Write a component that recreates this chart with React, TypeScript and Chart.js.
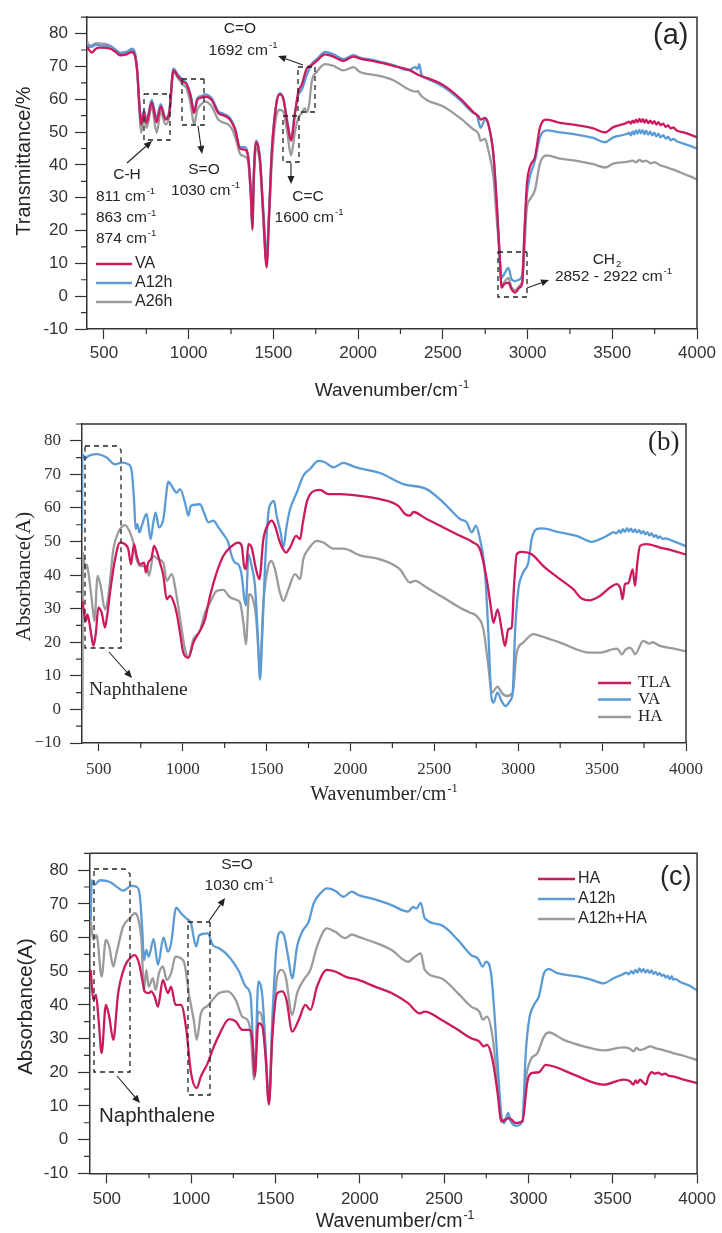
import React, { useEffect, useRef } from 'react';
import { Chart, registerables } from 'chart.js';

Chart.register(...registerables);

type P = [number, number];

const W = 722;
const RED = '#CC1A5E';
const BLUE = '#5B9BD5';
const GRAY = '#9B9B9B';
const AXIS = '#333333';
const TEXT = '#262626';
const SANS = "'Liberation Sans', Arial, Helvetica, sans-serif";
const SERIF = "'Liberation Serif', 'Times New Roman', serif";

// ---------- tick values ----------
const xMajorTicks = [500, 1000, 1500, 2000, 2500, 3000, 3500, 4000];
const xMinorTicks = [750, 1250, 1750, 2250, 2750, 3250, 3750];
const yMajorTicks = [-10, 0, 10, 20, 30, 40, 50, 60, 70, 80];
const yMinorTicks = [-5, 5, 15, 25, 35, 45, 55, 65, 75, 85];

// ---------- panel (a) ----------
const aVA: P[] = [
  [400, 76.0], [410, 75.2], [428, 74.2], [450, 75.3], [477, 75.7], [536, 75.4], [570, 74.4], [595, 73.4],
  [634, 73.7], [664, 74.4], [683, 73.2], [697, 68], [709, 58], [719, 52.3], [736, 55.8], [752, 52.8],
  [782, 59.1], [811, 53.0], [835, 57.8], [864, 53.8], [886, 56.0], [910, 68.8], [939, 66.8], [969, 65.3],
  [988, 64.5], [1012, 60.8], [1032, 55.8], [1051, 59.8], [1075, 60.5], [1096, 60.8], [1136, 59.8], [1175, 55.8],
  [1200, 55.2], [1244, 53.8], [1275, 50.5], [1303, 44.9], [1333, 44.6], [1352, 41.9], [1368, 30], [1376, 20.5],
  [1384, 36], [1397, 46.9], [1410, 45.5], [1421, 41.4], [1440, 25], [1460, 8.8], [1475, 25], [1490, 43.4],
  [1519, 59.1], [1539, 61.5], [1559, 60.0], [1582, 52.8], [1604, 47.4], [1628, 55.8], [1647, 62.3], [1667, 64.3],
  [1696, 69.3], [1726, 70.4], [1756, 71.7], [1805, 73.7], [1854, 73.0], [1913, 71.7], [1972, 73.0], [2011, 72.4],
  [2110, 71.4], [2208, 70.2], [2306, 68.8], [2361, 67.3], [2405, 66.5], [2503, 64.3], [2601, 60.3], [2680, 56.1],
  [2710, 54.8], [2723, 53.8], [2749, 54.3], [2769, 52.3], [2798, 43.4], [2818, 28.5], [2834, 13.5], [2847, 2.6],
  [2861, 3.6], [2887, 4.1], [2906, 2.1], [2926, 1.1], [2952, 2.6], [2969, 4.1], [2981, 18.5], [2995, 33.4],
  [3014, 39.4], [3044, 42.4], [3073, 51.3], [3113, 53.8], [3192, 52.8], [3290, 52.1], [3388, 51.1], [3457, 49.9],
  [3506, 51.5], [3585, 52.8], [3600, 53.2], [3610, 52.6], [3620, 53.5], [3630, 52.8], [3640, 53.8], [3650, 53.0],
  [3660, 54.0], [3670, 53.1], [3680, 53.9], [3690, 52.9], [3700, 53.8], [3712, 52.7], [3724, 53.5], [3736, 52.6],
  [3748, 53.3], [3760, 52.3], [3772, 53.0], [3785, 52.1], [3800, 52.6], [3815, 51.6], [3830, 52.0], [3845, 51.1],
  [3860, 51.4], [3880, 50.5], [3920, 49.9], [3960, 49.2], [4000, 48.4],
];
const aA12h: P[] = [
  [400, 76.6], [410, 76.0], [428, 76.0], [450, 76.6], [477, 76.4], [536, 76.2], [570, 75.0], [595, 74.0],
  [634, 74.3], [664, 75.4], [683, 74.2], [697, 68.5], [709, 59], [719, 53.8], [736, 56.5], [752, 53.8],
  [782, 59.8], [811, 54.3], [835, 58.5], [864, 54.3], [886, 56.5], [910, 69.3], [939, 67.3], [969, 65.8],
  [988, 64.8], [1012, 61.3], [1032, 56.3], [1051, 60.3], [1075, 61.0], [1096, 61.5], [1136, 60.3], [1175, 56.3],
  [1200, 55.7], [1244, 54.3], [1275, 51], [1303, 45.4], [1333, 45.4], [1352, 42.4], [1368, 31], [1376, 21.5],
  [1384, 37], [1397, 47.4], [1410, 46], [1421, 41.9], [1440, 27], [1460, 12.5], [1475, 27], [1490, 44],
  [1519, 59.3], [1539, 61.8], [1559, 60.3], [1582, 53.3], [1604, 47.9], [1628, 56.3], [1647, 61.3], [1667, 62.8],
  [1696, 67.3], [1726, 70.7], [1756, 72.2], [1805, 74.4], [1854, 73.7], [1913, 72.2], [1972, 73.4], [2011, 72.7],
  [2110, 71.7], [2208, 70.4], [2290, 68.9], [2306, 69.0], [2336, 69.8], [2350, 69.2], [2361, 70.7], [2375, 67.3],
  [2405, 66.3], [2503, 63.8], [2601, 59.8], [2680, 55.8], [2700, 55.2], [2723, 51.3], [2749, 53.8], [2769, 52.3],
  [2798, 43.4], [2818, 28.5], [2834, 13.5], [2847, 5.6], [2861, 6.6], [2887, 8.6], [2906, 5.1], [2926, 4.6],
  [2952, 5.1], [2969, 6.6], [2981, 18.5], [2995, 30.4], [3014, 36.4], [3044, 41.4], [3073, 48.4], [3113, 50.5],
  [3192, 49.9], [3290, 49.2], [3388, 48.2], [3457, 46.9], [3506, 48.4], [3585, 49.4], [3600, 49.8], [3610, 49.0],
  [3620, 50.2], [3630, 49.3], [3640, 50.5], [3650, 49.5], [3660, 50.7], [3670, 49.6], [3680, 50.6], [3690, 49.4],
  [3700, 50.4], [3712, 49.2], [3724, 50.1], [3736, 49.0], [3748, 49.8], [3760, 48.7], [3772, 49.5], [3785, 48.4],
  [3800, 49.1], [3815, 48.0], [3830, 48.5], [3845, 47.5], [3860, 47.9], [3880, 47.2], [3920, 46.5], [3960, 45.8],
  [4000, 44.9],
];
const aA26h: P[] = [
  [400, 77.7], [410, 76.5], [428, 76.4], [450, 77.0], [477, 77.0], [536, 76.4], [570, 75.0], [595, 74.2],
  [634, 74.5], [664, 75.0], [683, 73.5], [697, 68], [709, 57], [719, 49.8], [736, 53.8], [752, 51.3],
  [782, 57.8], [811, 49.8], [835, 56.3], [864, 52.3], [886, 55], [910, 68.3], [939, 66.3], [969, 64.3],
  [988, 63.3], [1012, 58.3], [1032, 52.3], [1051, 56.8], [1075, 58.5], [1096, 59.3], [1136, 57.8], [1175, 53.8],
  [1200, 53.0], [1244, 51.8], [1275, 48.5], [1303, 43.4], [1333, 42.5], [1352, 40.6], [1368, 29], [1376, 20],
  [1384, 34], [1397, 44.9], [1410, 44], [1421, 40.4], [1440, 24], [1460, 10], [1475, 24], [1490, 40],
  [1519, 55.3], [1539, 56.8], [1559, 56.1], [1582, 49.8], [1604, 42.9], [1628, 50.3], [1647, 54.3], [1667, 55.8],
  [1685, 57.3], [1696, 56.0], [1710, 58], [1726, 65.3], [1756, 68.3], [1805, 70.7], [1854, 70.2], [1913, 68.8],
  [1972, 69.8], [2011, 68.3], [2110, 67.3], [2208, 65.8], [2306, 62.8], [2340, 62.3], [2355, 62.5], [2361, 61.8],
  [2405, 59.8], [2503, 57.8], [2601, 54.3], [2680, 50.8], [2710, 49.5], [2723, 47.4], [2749, 47.9], [2769, 44.4],
  [2798, 36.4], [2818, 23.5], [2834, 13.5], [2847, 3.1], [2861, 4.1], [2887, 5.6], [2906, 2.6], [2926, 1.8],
  [2952, 3.1], [2969, 4.6], [2981, 13.5], [2995, 26.5], [3014, 29.5], [3044, 32.4], [3073, 40.4], [3113, 42.9],
  [3192, 41.9], [3290, 41.2], [3388, 40.2], [3457, 39.2], [3506, 40.4], [3585, 40.9], [3620, 41.3], [3640, 40.8],
  [3660, 41.5], [3680, 41.0], [3700, 41.3], [3725, 40.5], [3750, 40.8], [3782, 39.9], [3820, 39.3], [3850, 38.7],
  [3880, 38.2], [3920, 37.3], [3960, 36.5], [4000, 35.6],
];

// ---------- panel (b) ----------
const bTLA: P[] = [
  [402, 32.3], [412, 29], [422, 26.3], [432, 28.3], [444, 25.8], [456, 22], [468, 18.9], [483, 22.9],
  [497, 30.3], [517, 28.8], [537, 24.4], [550, 28], [567, 34.8], [597, 44.7], [626, 49.7], [656, 49.2],
  [676, 47.7], [692, 43.2], [710, 49.2], [726, 45.7], [746, 43.2], [770, 43.7], [781, 40.8], [795, 43.7],
  [815, 45.2], [829, 48.7], [845, 47.2], [865, 43.7], [885, 39.8], [905, 32.8], [924, 33.8], [944, 32.3],
  [964, 28.8], [984, 22.9], [1004, 16.9], [1034, 15.4], [1064, 19.9], [1103, 23.4], [1133, 26.8], [1163, 33.8],
  [1203, 40.8], [1242, 45.7], [1282, 48.2], [1332, 49.7], [1352, 48.7], [1366, 42.7], [1377, 41.8], [1392, 49.2],
  [1411, 48.2], [1437, 41.8], [1457, 38.8], [1481, 50.7], [1511, 55.2], [1530, 56.2], [1550, 54.7], [1580, 49.7],
  [1616, 46.7], [1640, 48.2], [1676, 51.7], [1700, 50.7], [1715, 55.2], [1739, 61.6], [1769, 64.6], [1819, 65.4],
  [1868, 64.1], [1938, 64.1], [2057, 63.6], [2176, 62.6], [2285, 60.6], [2325, 58.2], [2355, 57.7], [2375, 58.8],
  [2454, 56.7], [2554, 54.2], [2653, 51.7], [2732, 49.7], [2772, 47.7], [2812, 38.8], [2836, 30.8], [2852, 25.8],
  [2877, 29.8], [2901, 23.9], [2921, 18.9], [2941, 23.9], [2961, 24.4], [2975, 36.8], [2991, 46.2], [3020, 46.9],
  [3080, 46.2], [3150, 42.7], [3249, 38.8], [3328, 35.8], [3378, 33.0], [3428, 32.5], [3487, 33.8], [3547, 36.3],
  [3587, 37.3], [3610, 35.8], [3622, 32.8], [3636, 37.3], [3656, 37.6], [3682, 41.7], [3696, 36.8], [3710, 43.7],
  [3726, 48.7], [3765, 49.2], [3845, 48.2], [3920, 47.3], [4000, 46.1],
];
const bVA: P[] = [
  [400, 52.7], [403, 76], [418, 74.6], [438, 75.5], [487, 76], [547, 75], [597, 73], [636, 73.5],
  [676, 73], [696, 71], [710, 62.6], [720, 53.7], [730, 55.2], [742, 52.7], [756, 54.7], [785, 58.2],
  [809, 50.7], [825, 55.7], [839, 58.6], [859, 54.2], [885, 56.7], [915, 67.8], [934, 66.6], [964, 64.6],
  [984, 65.6], [1014, 61.6], [1034, 57.7], [1048, 60.6], [1103, 61.1], [1127, 58.6], [1153, 55.7], [1183, 56.2],
  [1213, 54.2], [1242, 52.2], [1272, 49.7], [1292, 45.7], [1312, 43.7], [1332, 43.2], [1352, 39.8], [1368, 32.8],
  [1377, 31], [1392, 46.2], [1411, 42.7], [1431, 36.8], [1447, 22.9], [1461, 8.9], [1475, 22.9], [1491, 42.7],
  [1511, 58.6], [1530, 61.6], [1544, 62.1], [1560, 57.7], [1584, 52.7], [1600, 48.2], [1620, 54.7], [1640, 59.6],
  [1680, 64.6], [1719, 69.6], [1759, 71.6], [1809, 74], [1848, 73.6], [1898, 72.1], [1958, 73.4], [2017, 72.4],
  [2057, 71.8], [2176, 70.4], [2315, 67.1], [2454, 65.6], [2554, 61.6], [2653, 56.7], [2693, 55.7], [2723, 52.7],
  [2748, 54.7], [2772, 50.7], [2802, 40.8], [2822, 22.9], [2838, 5], [2852, 2], [2876, 5], [2901, 2.5],
  [2925, 1], [2951, 2.5], [2967, 5], [2981, 22.9], [3001, 35.8], [3030, 40.8], [3060, 43.7], [3080, 50.7],
  [3110, 53.7], [3140, 53.9], [3249, 52.7], [3348, 51.7], [3438, 49.9], [3487, 50.7], [3547, 52.2], [3570, 52.8],
  [3585, 52.4], [3600, 53.3], [3612, 52.6], [3624, 53.7], [3636, 52.9], [3648, 54.0], [3660, 53.0], [3672, 53.8],
  [3684, 52.8], [3696, 53.6], [3708, 52.7], [3720, 53.4], [3732, 52.4], [3745, 53.1], [3758, 52.1], [3770, 52.8],
  [3782, 51.8], [3795, 52.4], [3808, 51.4], [3820, 52.0], [3833, 51.0], [3845, 51.5], [3860, 50.8], [3880, 50.9],
  [3920, 50.2], [3960, 49.4], [4000, 48.6],
];
const bHA: P[] = [
  [403, 0], [406, 46.7], [418, 41.7], [428, 43.2], [438, 40.8], [458, 32.8], [474, 26.3], [493, 39.8],
  [511, 36.8], [537, 29.8], [557, 33.8], [587, 47.7], [616, 52.7], [656, 54.9], [686, 52.7], [706, 49.7],
  [726, 44.7], [746, 42.7], [785, 42.7], [799, 39.8], [825, 45.7], [855, 44.7], [885, 43.7], [905, 38.3],
  [934, 40.3], [964, 33.8], [994, 23.9], [1014, 17.9], [1034, 15.4], [1064, 20.9], [1103, 23.4], [1133, 28.8],
  [1163, 31.8], [1203, 35.3], [1242, 35.6], [1282, 33.4], [1312, 32.8], [1342, 31.8], [1362, 25.8], [1377, 19.4],
  [1396, 34.3], [1411, 33.8], [1437, 27.8], [1461, 12.9], [1481, 31.8], [1511, 42.7], [1530, 44.2], [1550, 41.7],
  [1580, 34.8], [1600, 32.3], [1630, 35.8], [1670, 40.3], [1700, 38.8], [1719, 44.7], [1749, 47.7], [1799, 50.2],
  [1839, 49.7], [1898, 47.9], [1958, 47.9], [2057, 45.9], [2176, 44.7], [2295, 41.7], [2355, 37.8], [2385, 38.3],
  [2454, 36.3], [2554, 33.3], [2653, 30.3], [2713, 28.8], [2752, 27.8], [2792, 23.9], [2822, 12.9], [2842, 5],
  [2877, 6.8], [2901, 5], [2931, 4], [2967, 5], [2991, 16.9], [3030, 19.9], [3090, 22.4], [3130, 21.9],
  [3249, 19.9], [3428, 16.9], [3487, 16.9], [3587, 18.1], [3600, 17.6], [3617, 16.4], [3640, 17.8], [3666, 18.4],
  [3682, 17.6], [3696, 16.4], [3745, 20.4], [3780, 19.6], [3800, 20.0], [3845, 18.9], [3920, 18.2], [4000, 17.3],
];

// ---------- panel (c) ----------
const cHA: P[] = [
  [404, 50.4], [420, 41.5], [435, 43], [451, 35.6], [469, 25.7], [494, 40], [514, 36.5], [538, 29.6],
  [567, 43.5], [606, 51.4], [646, 54.3], [665, 54.8], [691, 52.3], [710, 47.4], [724, 44], [750, 43.5],
  [763, 44], [783, 42.5], [803, 39.5], [832, 47.4], [862, 43.5], [881, 45.4], [907, 40], [940, 40],
  [970, 33.1], [999, 19.8], [1033, 15.3], [1058, 18.8], [1098, 22.7], [1127, 26.7], [1166, 31.1], [1225, 35.8],
  [1264, 35.1], [1303, 32.6], [1343, 32.6], [1363, 29.6], [1377, 18.8], [1398, 34.6], [1422, 33.6], [1441, 24.7],
  [1461, 10.4], [1481, 30.6], [1510, 43.5], [1540, 44], [1565, 41.5], [1599, 32.1], [1638, 35.6], [1677, 40],
  [1707, 38.5], [1746, 45.4], [1805, 50.4], [1854, 49.9], [1913, 48.4], [1992, 47.4], [2090, 45.4], [2188, 43.5],
  [2286, 40.5], [2355, 37.5], [2385, 38], [2483, 35.6], [2581, 32.6], [2660, 30.1], [2709, 29.1], [2734, 27.7],
  [2754, 28.1], [2787, 23.7], [2817, 13.8], [2840, 5.4], [2886, 6.4], [2925, 4.9], [2964, 5.4], [2994, 17.3],
  [3023, 19.8], [3062, 20], [3102, 22.2], [3151, 21.7], [3269, 19.3], [3446, 16.3], [3564, 17.8], [3600, 17.4],
  [3623, 16.3], [3635, 17.6], [3645, 16.8], [3662, 17.8], [3680, 17.0], [3697, 16.3], [3710, 18.5], [3731, 20.0],
  [3750, 19.6], [3770, 19.9], [3790, 19.3], [3810, 19.6], [3830, 19.0], [3858, 18.8], [3920, 17.8], [4000, 16.8],
];
const cA12h: P[] = [
  [404, 65.2], [410, 77], [426, 75.6], [459, 77], [518, 76.5], [557, 75.1], [596, 73.9], [646, 75.3],
  [675, 75.1], [695, 72.6], [710, 62.2], [720, 53.3], [734, 56.3], [748, 54.3], [777, 59.5], [803, 51.9],
  [836, 60], [862, 55.8], [881, 58.3], [911, 68.9], [940, 67.2], [970, 65.7], [999, 64.2], [1029, 57.3],
  [1048, 60.7], [1098, 61.2], [1127, 57.8], [1166, 56.8], [1225, 54.3], [1284, 49.9], [1324, 45.4], [1353, 42.5],
  [1377, 18.8], [1398, 46.9], [1422, 42.5], [1441, 27.7], [1461, 11.4], [1481, 35.6], [1506, 57.3], [1530, 61.7],
  [1550, 60.7], [1575, 54.3], [1599, 47.9], [1628, 57.3], [1658, 61.7], [1697, 64.7], [1726, 70.1], [1766, 73.1],
  [1805, 74.6], [1854, 73.9], [1903, 72.1], [1952, 73.6], [1992, 72.6], [2090, 71.3], [2188, 69.6], [2286, 67.7],
  [2316, 69.1], [2335, 68.6], [2361, 70.3], [2385, 65.7], [2483, 63.7], [2581, 59.3], [2660, 54.8], [2699, 53.8],
  [2729, 51.4], [2748, 52.8], [2778, 49.4], [2801, 35.6], [2821, 19.8], [2840, 6.9], [2856, 4.9], [2880, 7.9],
  [2895, 5.4], [2931, 4.1], [2964, 5.4], [2984, 25.7], [3004, 35.6], [3033, 40], [3062, 42.5], [3092, 49.4],
  [3121, 50.6], [3171, 49.4], [3269, 48.6], [3367, 47.6], [3446, 46.4], [3505, 47.9], [3564, 49.2], [3580, 49.6],
  [3595, 49.1], [3610, 50.0], [3622, 49.3], [3634, 50.4], [3646, 49.6], [3658, 50.8], [3670, 49.8], [3682, 50.6],
  [3694, 49.6], [3706, 50.4], [3718, 49.5], [3730, 50.2], [3742, 49.2], [3754, 49.8], [3766, 48.9], [3778, 49.4],
  [3790, 48.6], [3802, 49.0], [3814, 48.1], [3826, 48.6], [3838, 47.7], [3850, 48.5], [3858, 47.4], [3870, 47.7],
  [3900, 46.8], [3950, 45.8], [4000, 44.3],
];
const cA12hHA: P[] = [
  [404, 65.2], [420, 59.3], [439, 60.7], [469, 48.4], [494, 59.3], [514, 57.3], [538, 51.4], [557, 55.3],
  [596, 63.2], [636, 65.7], [665, 67.2], [685, 65.7], [705, 59.3], [720, 44.4], [734, 50.4], [748, 45.4],
  [773, 47.9], [789, 44.4], [809, 49.4], [832, 51.4], [856, 47.4], [881, 49.4], [907, 54.3], [940, 53.8],
  [960, 52.3], [989, 42.5], [1015, 35.6], [1033, 29.6], [1058, 37.5], [1098, 39.7], [1127, 41.5], [1166, 43.5],
  [1215, 44], [1264, 41.5], [1303, 36.5], [1333, 35.6], [1353, 31.6], [1373, 17.8], [1398, 38], [1422, 35.6],
  [1441, 25.7], [1461, 10.9], [1481, 30.6], [1510, 48.4], [1536, 50.4], [1560, 48.4], [1599, 37], [1628, 43.5],
  [1667, 47.4], [1707, 50.4], [1746, 57.3], [1805, 62.7], [1854, 61.7], [1913, 59.8], [1952, 60.9], [1992, 60.2],
  [2090, 58.5], [2188, 56.3], [2286, 52.8], [2326, 54.3], [2361, 55.3], [2385, 50.4], [2483, 47.9], [2581, 43.5],
  [2660, 39.5], [2709, 38], [2729, 35.6], [2754, 36.5], [2787, 30.6], [2817, 16.8], [2840, 5.4], [2876, 6.4],
  [2915, 4.9], [2964, 5.4], [2984, 17.8], [3013, 23.7], [3053, 25.7], [3092, 30.6], [3121, 31.8], [3210, 29.6],
  [3328, 27.7], [3446, 26.5], [3564, 27.4], [3600, 27.0], [3623, 26.2], [3640, 27.2], [3660, 26.6], [3690, 27.0],
  [3721, 27.7], [3760, 27.0], [3800, 26.6], [3858, 25.7], [3920, 24.9], [4000, 23.6],
];

// ---------- drawing helpers ----------
type Ctx = CanvasRenderingContext2D;

function text(ctx: Ctx, s: string, x: number, y: number, size: number, family: string,
  align: CanvasTextAlign = 'left', baseline: CanvasTextBaseline = 'alphabetic') {
  ctx.font = `${size}px ${family}`;
  ctx.fillStyle = TEXT;
  ctx.textAlign = align;
  ctx.textBaseline = baseline;
  ctx.fillText(s, x, y);
}

function supText(ctx: Ctx, base: string, sup: string, x: number, y: number, size: number, family: string,
  align: 'left' | 'center' = 'left', mode: 'sup' | 'sub' = 'sup') {
  ctx.font = `${size}px ${family}`;
  const wb = ctx.measureText(base).width;
  const ss = size * 0.62;
  ctx.font = `${ss}px ${family}`;
  const ws = ctx.measureText(sup).width;
  const total = wb + ws + 1;
  const x0 = align === 'center' ? x - total / 2 : x;
  text(ctx, base, x0, y, size, family);
  const dy = mode === 'sup' ? -size * 0.42 : size * 0.22;
  text(ctx, sup, x0 + wb + 1, y + dy, ss, family);
}

function rotText(ctx: Ctx, s: string, cx: number, cy: number, size: number, family: string) {
  ctx.save();
  ctx.translate(cx, cy);
  ctx.rotate(-Math.PI / 2);
  text(ctx, s, 0, 0, size, family, 'center', 'middle');
  ctx.restore();
}

function dashedBox(ctx: Ctx, x1: number, y1: number, x2: number, y2: number, cut = 0) {
  ctx.save();
  ctx.strokeStyle = '#222';
  ctx.lineWidth = 1.3;
  ctx.setLineDash([5, 4]);
  ctx.beginPath();
  ctx.moveTo(x1, y1);
  ctx.lineTo(x2 - cut, y1);
  ctx.lineTo(x2, y1 + cut);
  ctx.lineTo(x2, y2);
  ctx.lineTo(x1, y2);
  ctx.closePath();
  ctx.stroke();
  ctx.restore();
}

function arrow(ctx: Ctx, x1: number, y1: number, x2: number, y2: number) {
  const ang = Math.atan2(y2 - y1, x2 - x1);
  const hl = 8, hw = 3.5;
  const bx = x2 - hl * Math.cos(ang), by = y2 - hl * Math.sin(ang);
  ctx.save();
  ctx.strokeStyle = '#222';
  ctx.fillStyle = '#222';
  ctx.lineWidth = 1.1;
  ctx.beginPath();
  ctx.moveTo(x1, y1);
  ctx.lineTo(bx, by);
  ctx.stroke();
  ctx.beginPath();
  ctx.moveTo(x2, y2);
  ctx.lineTo(bx + hw * Math.sin(ang), by - hw * Math.cos(ang));
  ctx.lineTo(bx - hw * Math.sin(ang), by + hw * Math.cos(ang));
  ctx.closePath();
  ctx.fill();
  ctx.restore();
}

function legendItem(ctx: Ctx, x1: number, x2: number, y: number, color: string, label: string,
  tx: number, size: number, family: string) {
  ctx.save();
  ctx.strokeStyle = color;
  ctx.lineWidth = 2.6;
  ctx.beginPath();
  ctx.moveTo(x1, y);
  ctx.lineTo(x2, y);
  ctx.stroke();
  ctx.restore();
  text(ctx, label, tx, y, size, family, 'left', 'middle');
}

// ---------- panel configs ----------
interface Series { label: string; data: P[]; color: string }
interface Panel {
  top: number; height: number;
  left: number; right: number; plotTop: number; plotBottom: number;
  family: string; tickSize: number;
  xTickLen: number; yTickLen: number; xMinorLen: number; yMinorLen: number;
  xPad: number; yPad: number; unicodeMinus: boolean;
  series: Series[];
  decorate: (ctx: Ctx) => void;
}

const panelA: Panel = {
  top: 0, height: 400, left: 87, right: 697, plotTop: 10, plotBottom: 329,
  family: SANS, tickSize: 17, xTickLen: 10, yTickLen: 12, xMinorLen: 5, yMinorLen: 6,
  xPad: 4, yPad: 7, unicodeMinus: false,
  series: [
    { label: 'VA', data: aVA, color: RED },
    { label: 'A12h', data: aA12h, color: BLUE },
    { label: 'A26h', data: aA26h, color: GRAY },
  ],
  decorate: (ctx) => {
    const f = SANS, s = 15.5;
    rotText(ctx, 'Transmittance/%', 24, 161, 20, f);
    supText(ctx, 'Wavenumber/cm', '-1', 392, 396, 19, f, 'center');
    text(ctx, '(a)', 653, 44, 29, f);
    legendItem(ctx, 96, 132, 264, RED, 'VA', 135, 16, f);
    legendItem(ctx, 96, 132, 283, BLUE, 'A12h', 135, 16, f);
    legendItem(ctx, 96, 132, 302, GRAY, 'A26h', 135, 16, f);
    // C-H
    dashedBox(ctx, 144, 94, 170, 140);
    arrow(ctx, 127, 163, 152, 141);
    text(ctx, 'C-H', 127, 178.6, s, f, 'center');
    supText(ctx, '811 cm', '-1', 96, 200.6, s, f);
    supText(ctx, '863 cm', '-1', 96, 222.3, s, f);
    supText(ctx, '874 cm', '-1', 96, 243, s, f);
    // S=O
    dashedBox(ctx, 182, 79, 204, 125);
    arrow(ctx, 198, 126, 202, 154);
    text(ctx, 'S=O', 204, 173.6, s, f, 'center');
    supText(ctx, '1030 cm', '-1', 205.5, 194.6, s, f, 'center');
    // C=O
    dashedBox(ctx, 298, 67, 315, 112);
    arrow(ctx, 303, 65, 278, 56);
    text(ctx, 'C=O', 240, 32.5, s, f, 'center');
    supText(ctx, '1692 cm', '-1', 243, 54.6, s, f, 'center');
    // C=C
    dashedBox(ctx, 283, 116, 299, 162);
    arrow(ctx, 291, 163, 291, 184);
    text(ctx, 'C=C', 308, 200.6, s, f, 'center');
    supText(ctx, '1600 cm', '-1', 309, 221.6, s, f, 'center');
    // CH2
    dashedBox(ctx, 498, 252, 527, 297);
    arrow(ctx, 527, 288, 549, 280);
    supText(ctx, 'CH', '2', 607, 263.6, s, f, 'center', 'sub');
    supText(ctx, '2852 - 2922 cm', '-1', 613.5, 280.6, s, f, 'center');
  },
};

const panelB: Panel = {
  top: 400, height: 415, left: 82, right: 686, plotTop: 24, plotBottom: 343,
  family: SERIF, tickSize: 17, xTickLen: 8, yTickLen: 12, xMinorLen: 5, yMinorLen: 6,
  xPad: 8, yPad: 9, unicodeMinus: true,
  series: [
    { label: 'TLA', data: bTLA, color: RED },
    { label: 'VA', data: bVA, color: BLUE },
    { label: 'HA', data: bHA, color: GRAY },
  ],
  decorate: (ctx) => {
    const f = SERIF;
    rotText(ctx, 'Absorbance(A)', 24, 576.5, 21, f);
    supText(ctx, 'Wavenumber/cm', '-1', 384, 800, 20, f, 'center');
    text(ctx, '(b)', 648, 450, 27, f);
    legendItem(ctx, 598, 631, 683, RED, 'TLA', 638, 17, f);
    legendItem(ctx, 598, 631, 699.5, BLUE, 'VA', 638, 17, f);
    legendItem(ctx, 598, 631, 717, GRAY, 'HA', 638, 17, f);
    dashedBox(ctx, 85, 446, 121, 648, 4);
    arrow(ctx, 109, 652, 132, 678);
    text(ctx, 'Naphthalene', 89, 695, 19.5, f);
  },
};

const panelC: Panel = {
  top: 815, height: 418, left: 90, right: 700.7, plotTop: 38.3, plotBottom: 358.3,
  family: SANS, tickSize: 17, xTickLen: 10, yTickLen: 12, xMinorLen: 5, yMinorLen: 6,
  xPad: 6, yPad: 9.7, unicodeMinus: false,
  series: [
    { label: 'HA', data: cHA, color: RED },
    { label: 'A12h', data: cA12h, color: BLUE },
    { label: 'A12h+HA', data: cA12hHA, color: GRAY },
  ],
  decorate: (ctx) => {
    const f = SANS, s = 15.5;
    rotText(ctx, 'Absorbance(A)', 26, 1006.5, 20.5, f);
    supText(ctx, 'Wavenumber/cm', '-1', 395, 1227, 19.5, f, 'center');
    text(ctx, '(c)', 660, 884.5, 27, f);
    legendItem(ctx, 538, 575, 879, RED, 'HA', 578, 16, f);
    legendItem(ctx, 538, 575, 899, BLUE, 'A12h', 578, 16, f);
    legendItem(ctx, 538, 575, 919, GRAY, 'A12h+HA', 578, 16, f);
    dashedBox(ctx, 94, 869, 130, 1072, 5);
    arrow(ctx, 117, 1076, 140, 1103);
    text(ctx, 'Naphthalene', 99, 1122.4, 20.5, f);
    dashedBox(ctx, 188, 922, 210, 1095);
    arrow(ctx, 209, 921, 225, 898);
    text(ctx, 'S=O', 237, 868.6, s, f, 'center');
    supText(ctx, '1030 cm', '-1', 239, 889.6, s, f, 'center');
  },
};

// ---------- chart component ----------
function PanelChart({ p }: { p: Panel }) {
  const ref = useRef<HTMLCanvasElement>(null);
  useEffect(() => {
    const canvas = ref.current;
    if (!canvas) return;
    const deco = {
      id: 'deco',
      afterDraw(chart: any) {
        const ctx: Ctx = chart.ctx;
        const a = chart.chartArea;
        const xs = chart.scales.x;
        const ys = chart.scales.y;
        ctx.save();
        ctx.strokeStyle = AXIS;
        ctx.lineWidth = 1.5;
        ctx.beginPath();
        ctx.moveTo(a.left, a.top);
        ctx.lineTo(a.right, a.top);
        ctx.lineTo(a.right, a.bottom);
        ctx.stroke();
        ctx.lineWidth = 1.2;
        ctx.beginPath();
        yMinorTicks.forEach((v) => {
          const py = ys.getPixelForValue(v);
          ctx.moveTo(a.left - p.yMinorLen, py);
          ctx.lineTo(a.left, py);
        });
        xMinorTicks.forEach((v) => {
          const px = xs.getPixelForValue(v);
          ctx.moveTo(px, a.bottom);
          ctx.lineTo(px, a.bottom + p.xMinorLen);
        });
        ctx.stroke();
        ctx.translate(0, -p.top);
        p.decorate(ctx);
        ctx.restore();
      },
    };
    const tickFont = { family: p.family, size: p.tickSize };
    const chart = new Chart(canvas, {
      type: 'line',
      data: {
        datasets: p.series.map((s) => ({
          label: s.label,
          data: s.data.map(([x, y]) => ({ x, y })),
          borderColor: s.color,
          backgroundColor: s.color,
          borderWidth: 2.3,
          pointRadius: 0,
          fill: false,
          borderJoinStyle: 'round' as const,
          cubicInterpolationMode: 'monotone' as const,
        })),
      },
      options: {
        responsive: false,
        animation: false,
        events: [],
        layout: { autoPadding: false, padding: { left: 0, top: p.plotTop, right: W - p.right, bottom: 0 } },
        plugins: { legend: { display: false }, tooltip: { enabled: false } },
        scales: {
          x: {
            type: 'linear',
            min: 400,
            max: 4000,
            afterBuildTicks: (s: any) => { s.ticks = xMajorTicks.map((v) => ({ value: v })); },
            afterFit: (s: any) => { s.height = p.height - p.plotBottom; },
            grid: { display: true, drawOnChartArea: false, drawTicks: true, tickLength: p.xTickLen, tickColor: AXIS, tickWidth: 1.2, color: AXIS },
            border: { display: true, color: AXIS, width: 1.5 },
            ticks: { padding: p.xPad, font: tickFont, color: '#333', maxRotation: 0, minRotation: 0, autoSkip: false, callback: (v: any) => String(v) },
          },
          y: {
            type: 'linear',
            min: -10,
            max: 85,
            afterBuildTicks: (s: any) => { s.ticks = yMajorTicks.map((v) => ({ value: v })); },
            afterFit: (s: any) => { s.width = p.left; },
            grid: { display: true, drawOnChartArea: false, drawTicks: true, tickLength: p.yTickLen, tickColor: AXIS, tickWidth: 1.2, color: AXIS },
            border: { display: true, color: AXIS, width: 1.5 },
            ticks: {
              padding: p.yPad, font: tickFont, color: '#333', autoSkip: false,
              callback: (v: any) => (p.unicodeMinus && v < 0 ? '\u2212' + Math.abs(v) : String(v)),
            },
          },
        },
      },
      plugins: [deco],
    } as any);
    return () => chart.destroy();
  }, [p]);
  return (
    <canvas
      ref={ref}
      width={W}
      height={p.height}
      style={{ position: 'absolute', left: 0, top: p.top, width: W, height: p.height }}
    />
  );
}

export default function App() {
  return (
    <div style={{ position: 'absolute', left: 0, top: 0, width: W, height: 1233, background: '#fff', overflow: 'hidden' }}>
      <PanelChart p={panelA} />
      <PanelChart p={panelB} />
      <PanelChart p={panelC} />
    </div>
  );
}
